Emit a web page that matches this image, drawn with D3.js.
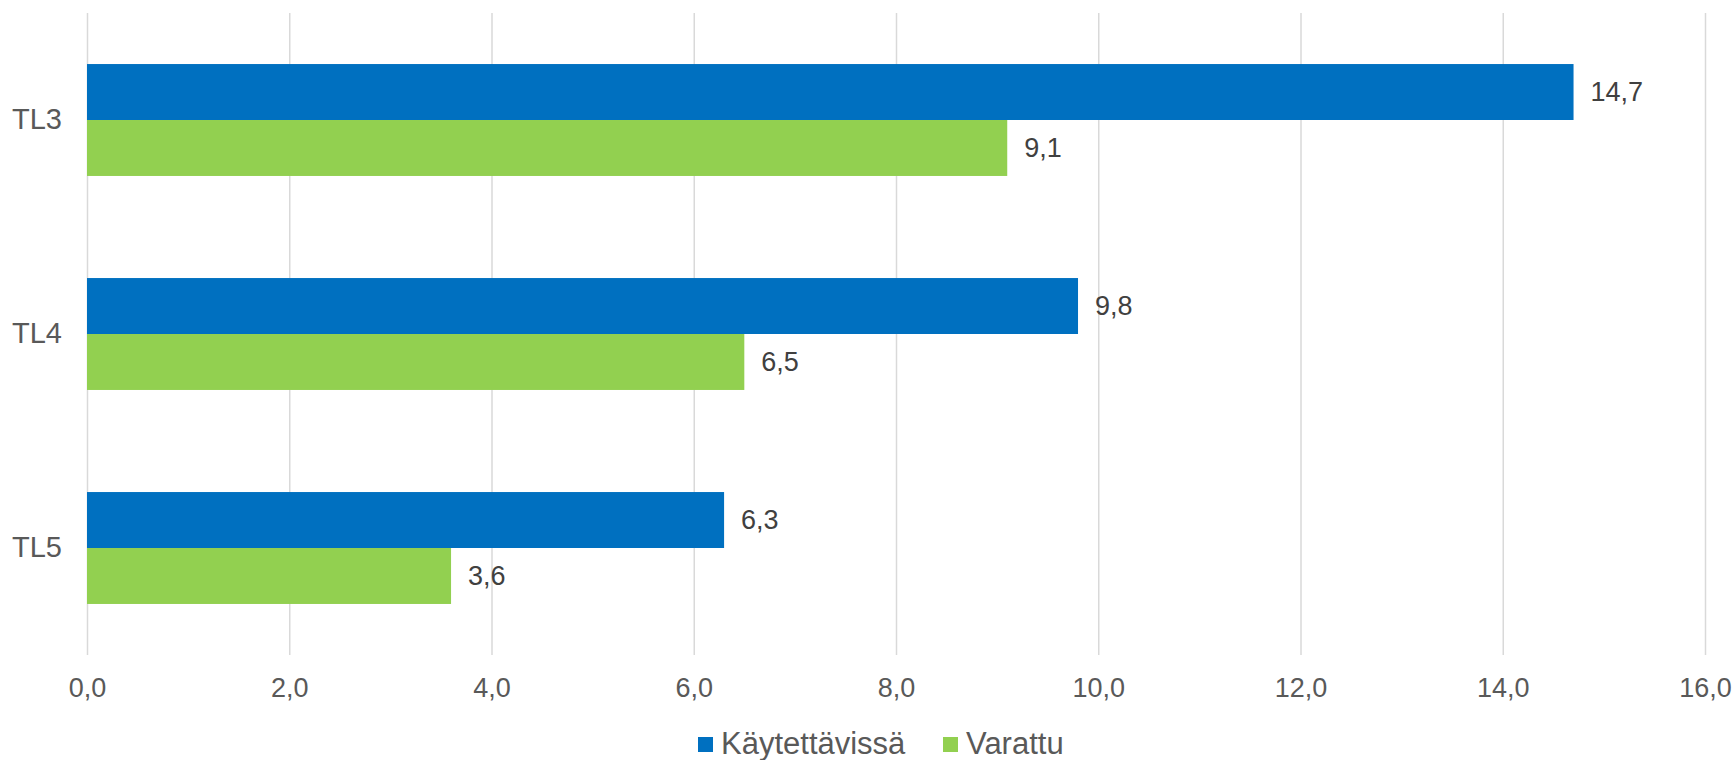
<!DOCTYPE html>
<html>
<head>
<meta charset="utf-8">
<script src="https://cdn.jsdelivr.net/npm/d3@7"></script>
<style>
  body { margin: 0; background: #fff; }
  svg { display: block; font-family: "Liberation Sans", Arial, sans-serif; }
</style>
</head>
<body>
<script>
// categories and series
const categories = ["TL3", "TL4", "TL5"];
const seriesNames = ["Käytettävissä", "Varattu"];
const kaytettavissa = [14.7, 9.8, 6.3];
const varattu = [9.1, 6.5, 3.6];
const xTicks = [0, 2, 4, 6, 8, 10, 12, 14, 16];

const colors = ["#0070C0", "#92D050"];
const seriesValues = [kaytettavissa, varattu];

const width = 1735;
const height = 760;
const marginTop = 13;
const marginBottom = 105;   // grid ends at y=655
const marginLeft = 87;
const plotRight = 1705;

const fmt = v => v.toFixed(1).replace(".", ",");

const svg = d3.select("body")
    .append("svg")
    .attr("width", width)
    .attr("height", height)
    .attr("viewBox", [0, 0, width, height]);

const x = d3.scaleLinear()
    .domain([0, 16])
    .range([marginLeft, plotRight]);

const y = d3.scaleBand()
    .domain(categories)
    .range([marginTop, height - marginBottom])
    .paddingInner(0.477)
    .paddingOuter(0.2385);

const ySub = d3.scaleBand()
    .domain(seriesNames)
    .range([0, y.bandwidth()]);

// gridlines + x tick labels
svg.append("g")
    .attr("transform", `translate(0,${height - marginBottom})`)
    .call(d3.axisBottom(x)
        .tickValues(xTicks)
        .tickFormat(fmt)
        .tickSize(-(height - marginBottom - marginTop))
        .tickPadding(23))
    .call(g => g.select(".domain").remove())
    .call(g => g.selectAll(".tick line").attr("stroke", "#d9d9d9").attr("stroke-width", 1.5))
    .call(g => g.selectAll(".tick text")
        .attr("fill", "#595959")
        .attr("font-size", 27)
        .attr("font-family", "Liberation Sans, Arial, sans-serif"));

// category labels
svg.append("g")
    .attr("transform", `translate(${marginLeft},0)`)
    .call(d3.axisLeft(y).tickSize(0).tickPadding(25))
    .call(g => g.select(".domain").remove())
    .call(g => g.selectAll(".tick text")
        .attr("fill", "#595959")
        .attr("font-size", 29)
        .attr("font-family", "Liberation Sans, Arial, sans-serif"));

// bars
const rows = categories.flatMap((c, i) =>
    seriesNames.map((s, j) => ({ cat: c, series: s, value: seriesValues[j][i], color: colors[j] })));

svg.append("g")
  .selectAll()
  .data(rows)
  .join("rect")
    .attr("x", x(0))
    .attr("y", d => y(d.cat) + ySub(d.series))
    .attr("width", d => x(d.value) - x(0))
    .attr("height", ySub.bandwidth())
    .attr("fill", d => d.color);

// value labels
svg.append("g")
    .attr("font-size", 27)
    .attr("fill", "#404040")
  .selectAll()
  .data(rows)
  .join("text")
    .attr("x", d => x(d.value) + 17)
    .attr("y", d => y(d.cat) + ySub(d.series) + ySub.bandwidth() / 2)
    .attr("dy", "0.35em")
    .text(d => fmt(d.value));

// legend
const legendX = [698, 943];
const legend = svg.append("g")
  .selectAll()
  .data(seriesNames)
  .join("g")
    .attr("transform", (d, i) => `translate(${legendX[i]},737)`);

legend.append("rect")
    .attr("width", 15)
    .attr("height", 15)
    .attr("fill", (d, i) => colors[i]);

legend.append("text")
    .attr("x", 23)
    .attr("y", 17)
    .attr("font-size", 31)
    .attr("fill", "#595959")
    .text(d => d);
</script>
</body>
</html>
